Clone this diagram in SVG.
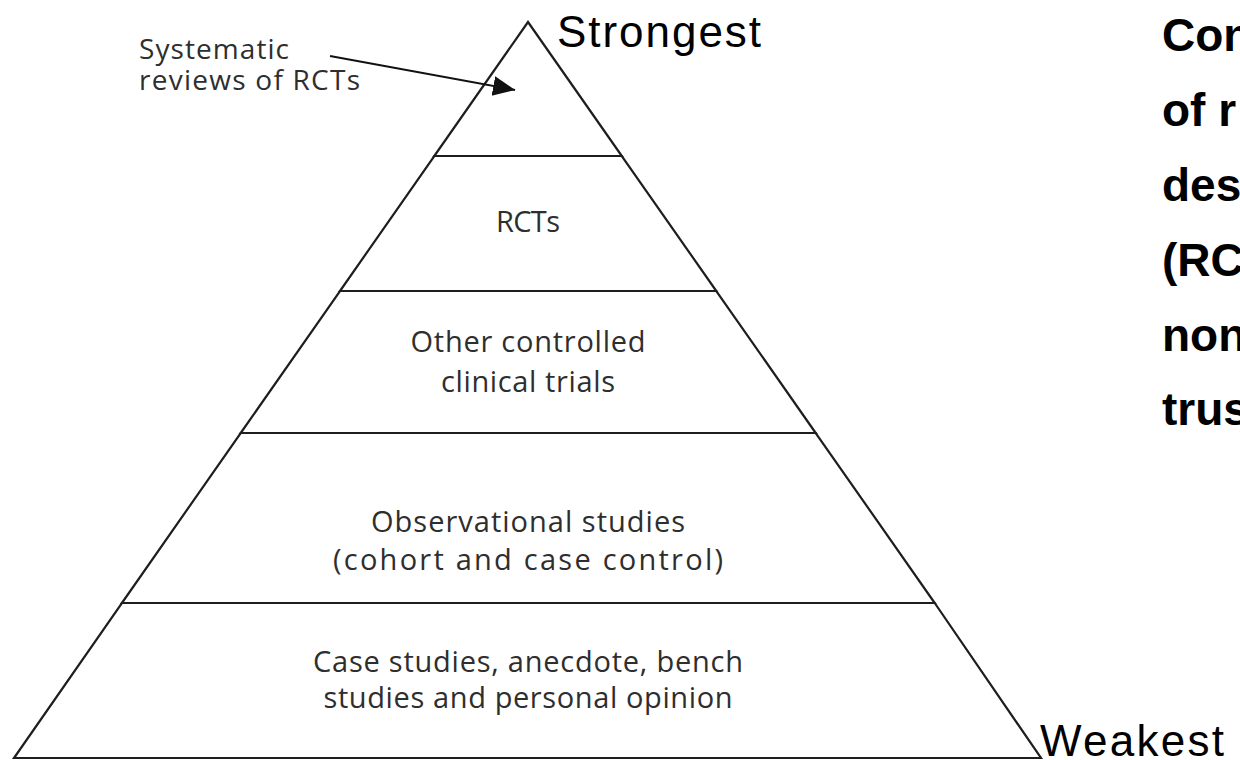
<svg xmlns="http://www.w3.org/2000/svg" width="1240" height="760" viewBox="0 0 1240 760">
  <style>
    .tier { fill: #ffffff; stroke: #1e1e1e; stroke-width: 2.2; stroke-linejoin: miter; }
    .lbl { font-family: "Open Sans", "Liberation Sans", sans-serif; font-size: 29px; fill: #2e2e2e; text-anchor: middle; }
    .side { font-family: "Open Sans", "Liberation Sans", sans-serif; font-size: 28px; fill: #2e2e2e; }
    .end { font-family: "Liberation Sans", Arial, sans-serif; font-size: 44px; fill: #000000; }
    .bold { font-family: "Liberation Sans", Arial, sans-serif; font-size: 46px; font-weight: bold; fill: #000000; }
    .conn { stroke: #111111; stroke-width: 2; fill: none; }
  </style>
  <defs>
    <marker id="arrow" markerUnits="userSpaceOnUse" markerWidth="24" markerHeight="22" refX="22" refY="10" orient="auto">
      <path d="M0,0 L22,10 L0,20 z" fill="#111111"/>
    </marker>
  </defs>
  <rect x="0" y="0" width="1240" height="760" fill="#ffffff"/>

  <g id="tier-systematic">
    <polygon class="tier" points="528,22 621.8,156 434.3,156"/>
  </g>
  <g id="tier-rcts">
    <polygon class="tier" points="434.3,156 621.8,156 716.3,291 340,291"/>
    <text class="lbl" x="528" y="232" textLength="64">RCTs</text>
  </g>
  <g id="tier-controlled">
    <polygon class="tier" points="340,291 716.3,291 815.7,433 240.7,433"/>
    <text class="lbl" x="528" y="352" textLength="235">Other controlled</text>
    <text class="lbl" x="528" y="392" textLength="174">clinical trials</text>
  </g>
  <g id="tier-observational">
    <polygon class="tier" points="240.7,433 815.7,433 934.7,603 121.9,603"/>
    <text class="lbl" x="528" y="532" textLength="314">Observational studies</text>
    <text class="lbl" x="528" y="570" textLength="390">(cohort and case control)</text>
  </g>
  <g id="tier-case">
    <polygon class="tier" points="121.9,603 934.7,603 1041,758 14,758"/>
    <text class="lbl" x="528" y="672" textLength="430">Case studies, anecdote, bench</text>
    <text class="lbl" x="528" y="708" textLength="409">studies and personal opinion</text>
  </g>

  <g id="label-systematic">
    <text class="side" x="139" y="59" textLength="150">Systematic</text>
    <text class="side" x="139" y="90" textLength="221">reviews of RCTs</text>
  </g>

  <g id="connectors">
    <line class="conn" x1="330" y1="56" x2="515" y2="90" marker-end="url(#arrow)"/>
  </g>

  <g id="label-strongest">
    <text class="end" x="557" y="47" textLength="204">Strongest</text>
  </g>
  <g id="label-weakest">
    <text class="end" x="1040" y="756" textLength="184">Weakest</text>
  </g>

  <g id="caption">
    <text class="bold" x="1162" y="51">Con</text>
    <text class="bold" x="1162" y="126">of r</text>
    <text class="bold" x="1162" y="201">des</text>
    <text class="bold" x="1162" y="276">(RC</text>
    <text class="bold" x="1162" y="351">non</text>
    <text class="bold" x="1162" y="425">trus</text>
  </g>
</svg>
